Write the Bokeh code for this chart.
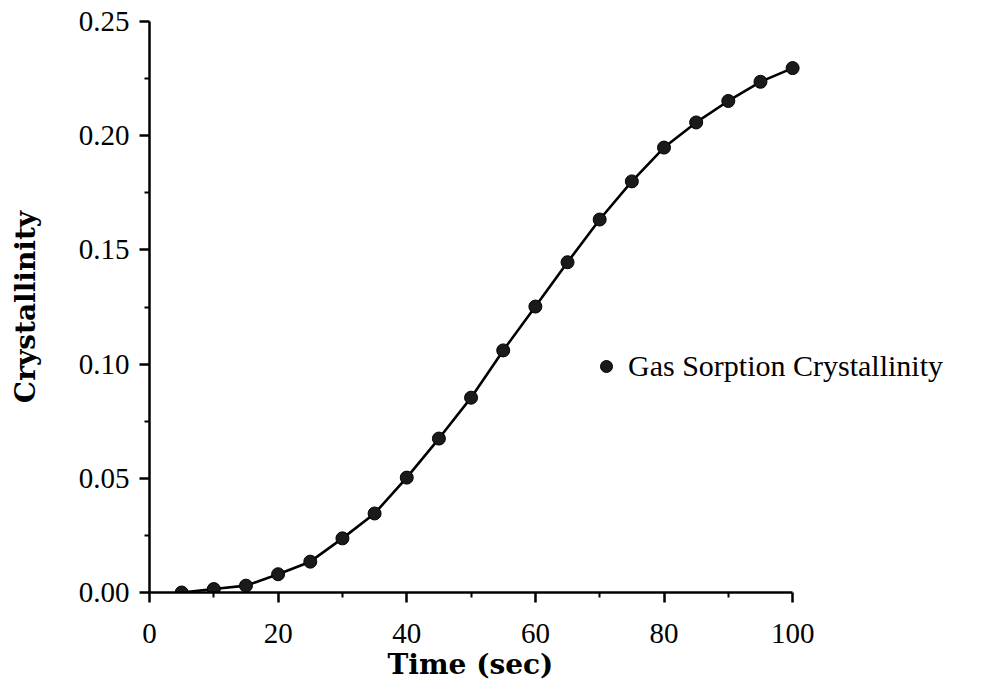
from bokeh.plotting import figure
from bokeh.models import Range1d, FixedTicker, Legend, LegendItem, NumeralTickFormatter, Title
from bokeh.embed import file_html
from bokeh.resources import INLINE

time_sec = [5, 10, 15, 20, 25, 30, 35, 40, 45, 50, 55, 60, 65, 70, 75, 80, 85, 90, 95, 100]
crystallinity = [0.000, 0.0015, 0.003, 0.008, 0.0135, 0.0237, 0.0346, 0.0503, 0.0674, 0.0853,
                 0.106, 0.1252, 0.1446, 0.1633, 0.180, 0.1948, 0.2058, 0.2152, 0.2236, 0.2296]
x_ticks = [0, 20, 40, 60, 80, 100]
y_ticks = [0.0, 0.05, 0.10, 0.15, 0.20, 0.25]
series_name = "Gas Sorption Crystallinity"
x_label = "Time (sec)"
y_label = "Crystallinity"

# frame spans to the right edge so the legend fits; the x axis itself stops at 100
p = figure(width=996, height=683, output_backend="svg", toolbar_location=None,
           x_range=Range1d(0, 131.7), y_range=Range1d(0, 0.25),
           min_border_left=149, min_border_right=0, min_border_top=21, min_border_bottom=91)
p.outline_line_color = None
p.xgrid.visible = False
p.ygrid.visible = False
p.background_fill_color = "white"
p.border_fill_color = "white"

line = p.line(time_sec, crystallinity, line_color="black", line_width=2.6)
pts = p.scatter(time_sec, crystallinity, size=13, fill_color="#1a1a1a", line_color="black", line_width=1)

for ax in (p.xaxis[0], p.yaxis[0]):
    ax.axis_line_width = 2.5
    ax.axis_line_color = "black"
    ax.major_tick_line_width = 2.5
    ax.minor_tick_line_width = 2
    ax.major_tick_out = 10
    ax.major_tick_in = 0
    ax.minor_tick_out = 5
    ax.minor_tick_in = 0
    ax.major_label_text_font = "Liberation Serif"
    ax.major_label_text_font_size = "29px"
    ax.major_label_text_color = "black"
    ax.axis_label_text_font = "DejaVu Serif"
    ax.axis_label_text_font_style = "bold"
    ax.axis_label_text_font_size = "28px"
    ax.axis_label_text_color = "black"

p.xaxis.bounds = (0, 100)
p.xaxis.ticker = FixedTicker(ticks=x_ticks, minor_ticks=[10, 30, 50, 70, 90])
p.yaxis.ticker = FixedTicker(ticks=y_ticks, minor_ticks=[0.025, 0.075, 0.125, 0.175, 0.225])
p.yaxis.formatter = NumeralTickFormatter(format="0.00")
p.yaxis.axis_label = y_label
p.xaxis.major_label_standoff = 21
p.yaxis.major_label_standoff = 10
p.yaxis.axis_label_standoff = 34

# x-axis title centred under the 0..100 axis
p.add_layout(Title(text=x_label, align="left", offset=238, standoff=0,
                   text_font="DejaVu Serif", text_font_style="bold",
                   text_font_size="28px", text_color="black"), "below")

legend = Legend(items=[LegendItem(label=series_name, renderers=[pts])],
                location=(442, 209), border_line_color=None, background_fill_alpha=0,
                padding=0, margin=0, glyph_width=30, glyph_height=30, label_standoff=7,
                label_text_font="Liberation Serif", label_text_font_size="30px",
                label_text_color="black")
p.add_layout(legend, "center")

open("out.html", "w").write(file_html(p, INLINE))
